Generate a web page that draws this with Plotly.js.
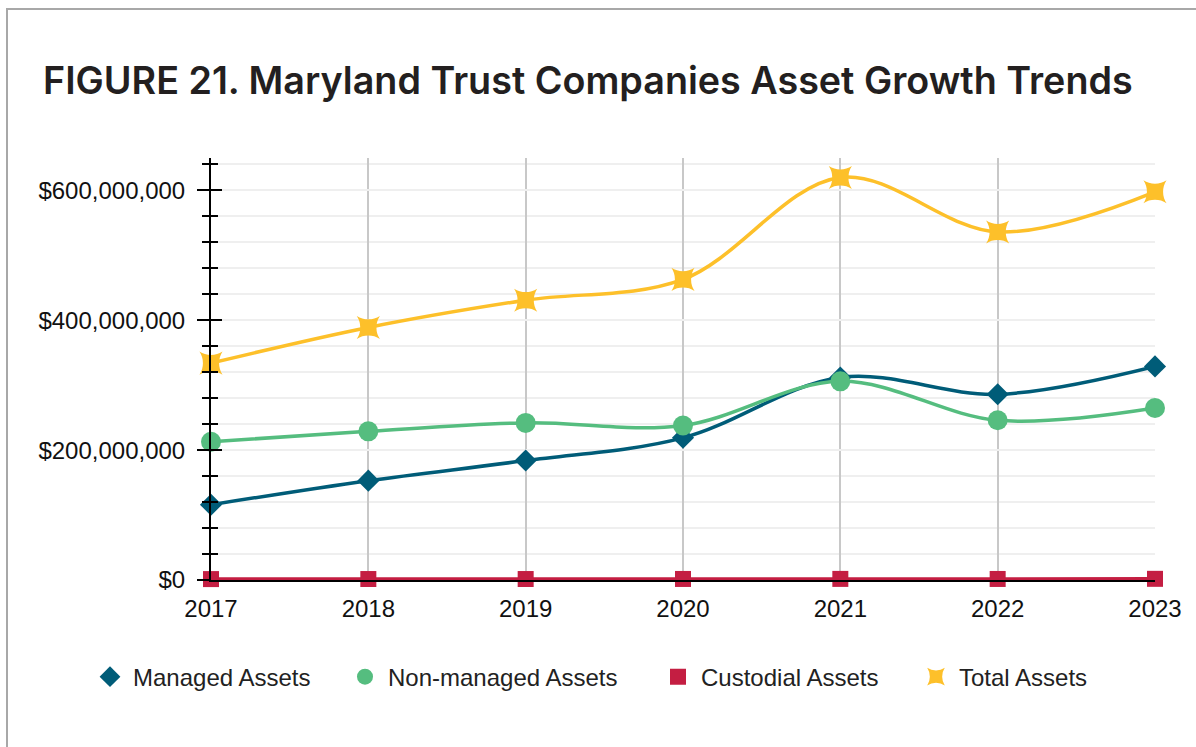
<!DOCTYPE html>
<html>
<head>
<meta charset="utf-8">
<script src="https://cdn.plot.ly/plotly-3.0.1.min.js"></script>
<style>
  html, body { margin:0; padding:0; background:#fff; overflow:hidden; }
  #wrap { position:relative; width:1196px; height:747px; }
  #chart { position:absolute; left:0; top:0; width:1196px; height:747px; }
  #frame { position:absolute; left:6px; top:8px; width:1400px; height:1000px;
           border:2px solid #a8a8a8; pointer-events:none; box-sizing:border-box; }
</style>
</head>
<body>
<div id="wrap">
  <div id="chart"></div>
  <div id="frame"></div>
</div>
<script>
// ---- data ----
const years = [2017, 2018, 2019, 2020, 2021, 2022, 2023];
const managedAssets    = [116e6, 153e6, 184e6, 219e6, 312e6, 286e6, 329e6];
const nonManagedAssets = [213e6, 229e6, 242e6, 238e6, 306e6, 246e6, 265e6];
const custodialAssets  = [1.4e6, 1.5e6, 1.5e6, 1.6e6, 1.7e6, 1.6e6, 1.8e6];
const totalAssets      = [334e6, 389e6, 431e6, 463e6, 620e6, 536e6, 598e6];
const seriesNames = ['Managed Assets', 'Non-managed Assets', 'Custodial Assets', 'Total Assets'];
const yTickValues = [0, 200e6, 400e6, 600e6];
const yTickLabels = yTickValues.map(v => '$' + v.toLocaleString('en-US'));
const titleText = 'FIGURE 21. Maryland Trust Companies Asset Growth Trends';

const colors = ['#005c78', '#55bd7f', '#c41e42', '#fdc02a'];
const symbols = ['diamond', 'circle', 'square', 'star-square'];
const sizes = [17, 20, 16, 21];
const seriesValues = [managedAssets, nonManagedAssets, custodialAssets, totalAssets];
const legendIds = ['legend', 'legend2', 'legend3', 'legend4'];

const traces = [];
seriesValues.forEach((vals, i) => {
  // smoothed line (no legend entry)
  traces.push({
    type: 'scatter', mode: 'lines', x: years, y: vals, name: seriesNames[i],
    line: { color: colors[i], width: 3.5, shape: 'spline', smoothing: 1 },
    showlegend: false, cliponaxis: false, hoverinfo: 'skip'
  });
});
seriesValues.forEach((vals, i) => {
  // markers (legend entry shows the marker only)
  traces.push({
    type: 'scatter', mode: 'markers', x: years, y: vals, name: seriesNames[i],
    marker: { color: colors[i], symbol: symbols[i], size: sizes[i], line: { width: 0 } },
    cliponaxis: false, legend: legendIds[i]
  });
});

// invisible helper trace for the inner ticks of the overlaid axis
traces.push({ type: 'scatter', x: [years[0]], y: [0], yaxis: 'y2', mode: 'markers',
  marker: { opacity: 0 }, showlegend: false, hoverinfo: 'skip' });

const tickFont = { family: 'Liberation Sans, Arial, sans-serif', size: 24, color: '#111' };
const legendFont = { family: 'Liberation Sans, Arial, sans-serif', size: 24, color: '#222' };
const legendCenters = [107, 362, 675, 933];
const plotL = 211, plotW = 944;
function legendAt(px) {
  return { orientation: 'h', x: (px - 20 - plotL) / plotW, xanchor: 'left',
           y: -0.23, yanchor: 'middle', font: legendFont, bgcolor: 'rgba(0,0,0,0)',
           borderwidth: 0, itemwidth: 36, itemclick: false };
}

const yRange = [0, 650e6];
const layout = {
  width: 1196, height: 747,
  margin: { l: 211, r: 41, t: 158, b: 167 },
  paper_bgcolor: '#fff', plot_bgcolor: '#fff',
  title: { text: titleText,
           font: { family: 'Inter, Open Sans, sans-serif', size: 37.7, weight: 600, color: '#231f20' },
           x: 43 / 1196, xanchor: 'left', xref: 'container',
           y: 1 - 81 / 747, yanchor: 'middle', yref: 'container' },
  xaxis: {
    range: [2017, 2023], tickvals: years, ticktext: years.map(String),
    showgrid: true, gridcolor: '#c8c8c8', gridwidth: 2,
    showline: true, linecolor: '#000', linewidth: 2,
    ticks: '', zeroline: false, ticklabelstandoff: 6,
    tickfont: tickFont
  },
  yaxis: {
    range: yRange, tickvals: yTickValues, ticktext: yTickLabels,
    showgrid: true, gridcolor: '#efefef', gridwidth: 2,
    showline: true, linecolor: '#000', linewidth: 2,
    ticks: 'outside', ticklen: 12, tickwidth: 2, tickcolor: '#000',
    ticklabelstandoff: 7,
    minor: { dtick: 40e6, tick0: 0, ticks: 'outside', ticklen: 7, tickwidth: 2, tickcolor: '#000',
             showgrid: true, gridcolor: '#efefef', gridwidth: 2 },
    zeroline: false,
    tickfont: tickFont
  },
  yaxis2: {
    overlaying: 'y', side: 'left', anchor: 'x', range: yRange, tickvals: yTickValues,
    showticklabels: false, showgrid: false, showline: false, zeroline: false,
    ticks: 'inside', ticklen: 11, tickwidth: 2, tickcolor: '#000',
    minor: { dtick: 40e6, tick0: 0, ticks: 'inside', ticklen: 7, tickwidth: 2, tickcolor: '#000', showgrid: false }
  },
  legend: legendAt(legendCenters[0]),
  legend2: legendAt(legendCenters[1]),
  legend3: legendAt(legendCenters[2]),
  legend4: legendAt(legendCenters[3]),
  showlegend: true,
  hovermode: false
};

Plotly.newPlot('chart', traces, layout, { displayModeBar: false, staticPlot: true });
</script>
</body>
</html>
